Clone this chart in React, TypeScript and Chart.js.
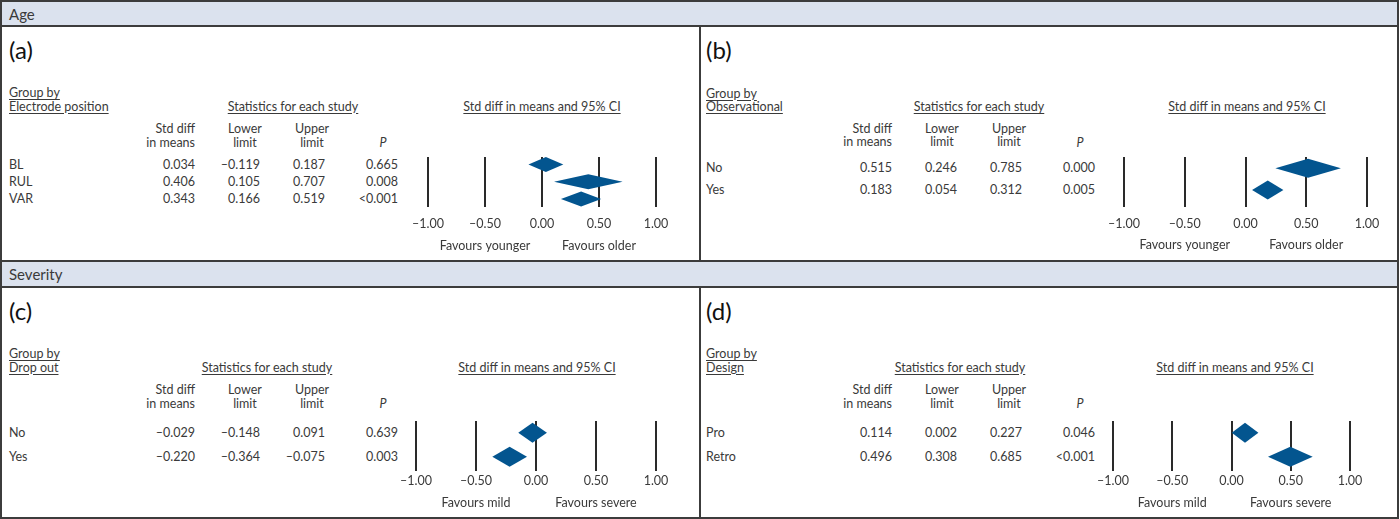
import React, { useEffect, useLayoutEffect, useRef } from "react";
import { Chart, registerables } from "chart.js";
Chart.register(...registerables);

// ---------- data ----------
const xTicks = [-1, -0.5, 0, 0.5, 1];
const xTickLabels = ["–1.00", "–0.50", "0.00", "0.50", "1.00"];
const colHeads1 = ["Std diff", "Lower", "Upper"];
const colHeads2 = ["in means", "limit", "limit"];

const aGroups = ["BL", "RUL", "VAR"];
const aMean = [0.034, 0.406, 0.343];
const aLower = [-0.119, 0.105, 0.166];
const aUpper = [0.187, 0.707, 0.519];
const aP = ["0.665", "0.008", "<0.001"];

const bGroups = ["No", "Yes"];
const bMean = [0.515, 0.183];
const bLower = [0.246, 0.054];
const bUpper = [0.785, 0.312];
const bP = ["0.000", "0.005"];

const cGroups = ["No", "Yes"];
const cMean = [-0.029, -0.22];
const cLower = [-0.148, -0.364];
const cUpper = [0.091, -0.075];
const cP = ["0.639", "0.003"];

const dGroups = ["Pro", "Retro"];
const dMean = [0.114, 0.496];
const dLower = [0.002, 0.308];
const dUpper = [0.227, 0.685];
const dP = ["0.046", "<0.001"];

// ---------- styles ----------
const FONT = "Lato, 'Open Sans', 'DejaVu Sans', sans-serif";
const TXT = "#3a3a3a";
const LINE = "#3c3c3c";
const BAR = "#dbe2ee";
const BLUE = "#03558f";
const FS = 12.5;

const fmt = (v: number) => (v < 0 ? "–" : "") + Math.abs(v).toFixed(3);

function T({ x, y, children, align = "left", size = FS, italic = false, underline = false, color = TXT }: any) {
  const tx = align === "left" ? "0" : align === "right" ? "-100%" : "-50%";
  return (
    <div
      style={{
        position: "absolute",
        left: x,
        top: y - 9,
        height: 18,
        lineHeight: "18px",
        fontFamily: FONT,
        fontSize: size,
        fontStyle: italic ? "italic" : "normal",
        textDecoration: underline ? "underline" : "none",
        textUnderlineOffset: 2,
        color,
        whiteSpace: "nowrap",
        transform: `translateX(${tx})`,
      }}
    >
      {children}
    </div>
  );
}

type Geo = {
  plotL: number; plotR: number; plotT: number; plotB: number;
  yMin: number; yMax: number; halfH: number; tickPad: number; favOff: number;
};

const PADX = 25, PADT = 10, AXH = 25, PADB = 25;

function Forest({ geo, means, lowers, uppers, favL, favR }: { geo: Geo; means: number[]; lowers: number[]; uppers: number[]; favL: string; favR: string }) {
  const ref = useRef<HTMLCanvasElement>(null);
  const w = geo.plotR - geo.plotL + 2 * PADX;
  const h = PADT + (geo.plotB - geo.plotT) + AXH + PADB;
  useEffect(() => {
    const plugin = {
      id: "diamonds",
      afterDatasetsDraw(chart: any) {
        const { ctx, scales } = chart;
        const xs = scales.x, ys = scales.y;
        ctx.save();
        ctx.fillStyle = BLUE;
        means.forEach((m, i) => {
          const cy = ys.getPixelForValue(i);
          const xl = xs.getPixelForValue(lowers[i]);
          const xm = xs.getPixelForValue(m);
          const xu = xs.getPixelForValue(uppers[i]);
          ctx.beginPath();
          ctx.moveTo(xl, cy);
          ctx.lineTo(xm, cy - geo.halfH);
          ctx.lineTo(xu, cy);
          ctx.lineTo(xm, cy + geo.halfH);
          ctx.closePath();
          ctx.fill();
        });
        ctx.fillStyle = TXT;
        ctx.font = `${FS}px ${FONT}`;
        ctx.textAlign = "center";
        ctx.textBaseline = "middle";
        const fy = chart.chartArea.bottom + geo.favOff;
        ctx.fillText(favL, xs.getPixelForValue(-0.5), fy);
        ctx.fillText(favR, xs.getPixelForValue(0.5), fy);
        ctx.restore();
      },
    };
    const chart = new Chart(ref.current!, {
      type: "scatter",
      data: {
        datasets: [{ data: means.map((m, i) => ({ x: m, y: i })), pointRadius: 0, showLine: false }],
      },
      options: {
        animation: false,
        responsive: false,
        maintainAspectRatio: false,
        devicePixelRatio: 1,
        layout: { padding: { left: PADX, right: PADX, top: PADT, bottom: PADB } },
        plugins: { legend: { display: false }, tooltip: { enabled: false } },
        scales: {
          x: {
            type: "linear",
            min: -1,
            max: 1,
            afterBuildTicks: (s: any) => {
              s.ticks = xTicks.map((v) => ({ value: v }));
            },
            afterFit: (s: any) => {
              s.height = AXH;
            },
            grid: { color: "#2a2a2a", lineWidth: 2, drawTicks: false },
            border: { display: false },
            ticks: {
              padding: geo.tickPad,
              color: TXT,
              font: { family: FONT, size: FS },
              autoSkip: false,
              maxRotation: 0,
              callback: (v: any) => {
                const i = xTicks.indexOf(Number(v));
                return i >= 0 ? xTickLabels[i] : "";
              },
            },
          },
          y: { type: "linear", display: false, reverse: true, min: geo.yMin, max: geo.yMax },
        },
      },
      plugins: [plugin],
    } as any);
    return () => chart.destroy();
  }, []);
  return (
    <canvas
      ref={ref}
      width={w}
      height={h}
      style={{ position: "absolute", left: geo.plotL - PADX, top: geo.plotT - PADT, width: w, height: h, pointerEvents: "none" }}
    />
  );
}

type PanelProps = {
  tag: string; tagY: number; dx: number;
  group: string; groupY: number; statsX: number; ciX: number; headY: number;
  rowYs: number[]; groups: string[]; means: number[]; lowers: number[]; uppers: number[]; ps: string[];
};

function Panel(p: PanelProps) {
  const dx = p.dx;
  const stdR = 195 + dx, lowC = 245 + dx, upC = 312 + dx, pC = 383 + dx;
  const v1 = 195 + dx, v2 = 260 + dx, v3 = 325 + dx, v4 = 398 + dx;
  return (
    <>
      <T x={9 + dx} y={p.tagY} size={24} color="#111">{p.tag}</T>
      <T x={9 + dx} y={p.groupY} underline>Group by</T>
      <T x={9 + dx} y={p.groupY + 13.5} underline>{p.group}</T>
      <T x={p.statsX} y={p.groupY + 13.5} align="center" underline>Statistics for each study</T>
      <T x={p.ciX} y={p.groupY + 13.5} align="center" underline>Std diff in means and 95% CI</T>
      <T x={stdR} y={p.headY} align="right">{colHeads1[0]}</T>
      <T x={stdR} y={p.headY + 13.5} align="right">{colHeads2[0]}</T>
      <T x={lowC} y={p.headY} align="center">{colHeads1[1]}</T>
      <T x={lowC} y={p.headY + 13.5} align="center">{colHeads2[1]}</T>
      <T x={upC} y={p.headY} align="center">{colHeads1[2]}</T>
      <T x={upC} y={p.headY + 13.5} align="center">{colHeads2[2]}</T>
      <T x={pC} y={p.headY + 14} align="center" italic>P</T>
      {p.groups.map((g, i) => (
        <React.Fragment key={g}>
          <T x={9 + dx} y={p.rowYs[i]}>{g}</T>
          <T x={v1} y={p.rowYs[i]} align="right">{fmt(p.means[i])}</T>
          <T x={v2} y={p.rowYs[i]} align="right">{fmt(p.lowers[i])}</T>
          <T x={v3} y={p.rowYs[i]} align="right">{fmt(p.uppers[i])}</T>
          <T x={v4} y={p.rowYs[i]} align="right">{p.ps[i]}</T>
        </React.Fragment>
      ))}
    </>
  );
}

const geoA: Geo = { plotL: 428, plotR: 656, plotT: 157, plotB: 207, yMin: -0.435, yMax: 2.464, halfH: 7.5, tickPad: 9, favOff: 38.5 };
const geoB: Geo = { plotL: 1124, plotR: 1367, plotT: 157, plotB: 207, yMin: -0.52, yMax: 1.784, halfH: 9.5, tickPad: 9, favOff: 38 };
const geoC: Geo = { plotL: 416, plotR: 656, plotT: 421, plotB: 471, yMin: -0.4875, yMax: 1.596, halfH: 10, tickPad: 2.5, favOff: 31.5 };
const geoD: Geo = { plotL: 1113, plotR: 1350, plotT: 421, plotB: 471, yMin: -0.4875, yMax: 1.596, halfH: 10, tickPad: 2.5, favOff: 31.5 };

function Rect({ l, t, w, h, bg }: any) {
  return <div style={{ position: "absolute", left: l, top: t, width: w, height: h, background: bg }} />;
}

export default function App() {
  useLayoutEffect(() => {
    document.body.style.margin = "0";
    document.body.style.background = "#fff";
  }, []);
  return (
    <div style={{ position: "relative", width: 1400, height: 519, overflow: "hidden", background: "#fff" }}>
      {/* header bars */}
      <Rect l={0} t={0} w={1399} h={26} bg={BAR} />
      <Rect l={0} t={261} w={1399} h={26} bg={BAR} />
      {/* frame lines */}
      <Rect l={0} t={0} w={1399} h={2} bg={LINE} />
      <Rect l={0} t={25} w={1399} h={2} bg={LINE} />
      <Rect l={0} t={260} w={1399} h={2} bg={LINE} />
      <Rect l={0} t={286} w={1399} h={2} bg={LINE} />
      <Rect l={0} t={517} w={1399} h={2} bg={LINE} />
      <Rect l={0} t={0} w={2} h={519} bg={LINE} />
      <Rect l={1397} t={0} w={2} h={519} bg={LINE} />
      <Rect l={699} t={26} w={2} h={235} bg={LINE} />
      <Rect l={699} t={287} w={2} h={231} bg={LINE} />
      <T x={9} y={13.5} size={15}>Age</T>
      <T x={9} y={274} size={15}>Severity</T>

      <Panel tag="(a)" tagY={50} dx={0} group="Electrode position" groupY={93} statsX={293} ciX={542} headY={129}
        rowYs={[164.5, 182, 199]} groups={aGroups} means={aMean} lowers={aLower} uppers={aUpper} ps={aP} />
      <Panel tag="(b)" tagY={50} dx={697} group="Observational" groupY={93.5} statsX={979} ciX={1247} headY={128.5}
        rowYs={[168.3, 190]} groups={bGroups} means={bMean} lowers={bLower} uppers={bUpper} ps={bP} />
      <Panel tag="(c)" tagY={311} dx={0} group="Drop out" groupY={354} statsX={267} ciX={537} headY={390}
        rowYs={[433, 456.7]} groups={cGroups} means={cMean} lowers={cLower} uppers={cUpper} ps={cP} />
      <Panel tag="(d)" tagY={311} dx={697} group="Design" groupY={354} statsX={960} ciX={1235} headY={390}
        rowYs={[433, 456.7]} groups={dGroups} means={dMean} lowers={dLower} uppers={dUpper} ps={dP} />

      <Forest geo={geoA} means={aMean} lowers={aLower} uppers={aUpper} favL="Favours younger" favR="Favours older" />
      <Forest geo={geoB} means={bMean} lowers={bLower} uppers={bUpper} favL="Favours younger" favR="Favours older" />
      <Forest geo={geoC} means={cMean} lowers={cLower} uppers={cUpper} favL="Favours mild" favR="Favours severe" />
      <Forest geo={geoD} means={dMean} lowers={dLower} uppers={dUpper} favL="Favours mild" favR="Favours severe" />
    </div>
  );
}
